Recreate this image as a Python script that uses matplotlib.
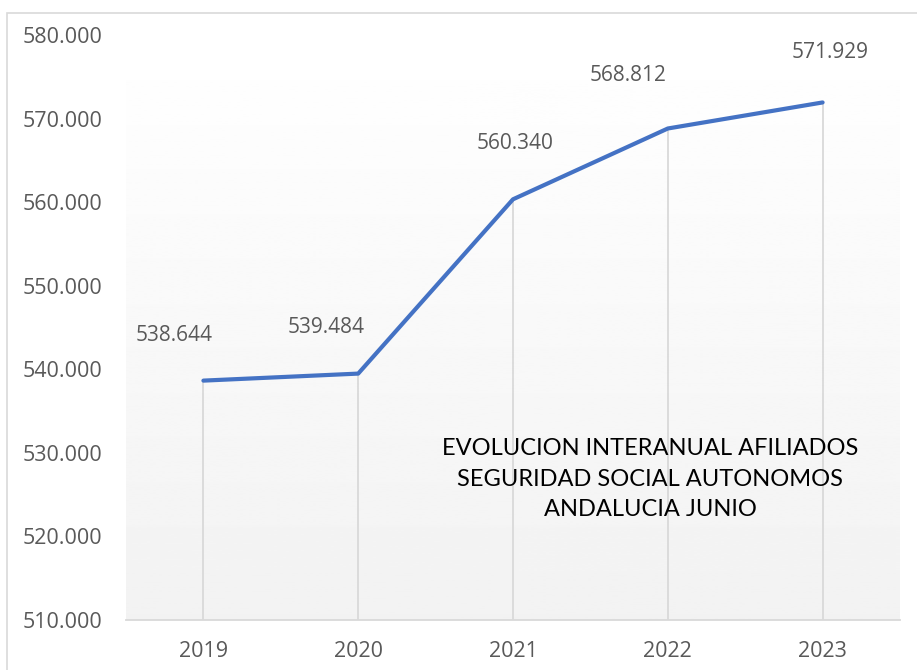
import numpy as np
import matplotlib.pyplot as plt
from matplotlib.patches import Rectangle
from matplotlib.ticker import FuncFormatter

years = ["2019", "2020", "2021", "2022", "2023"]
afiliados = [538644, 539484, 560340, 568812, 571929]
titulo = "EVOLUCION INTERANUAL AFILIADOS\nSEGURIDAD SOCIAL AUTONOMOS\nANDALUCIA JUNIO"

# desplazamiento de cada etiqueta respecto a su punto (pixeles)
label_offsets = [(-29, 45), (-32, 46), (2, 56), (-40, 53), (8, 50)]

LINE = "#4472C4"
GREY = "#595959"


def miles(v, pos=None):
    # formato español: punto como separador de miles
    return f"{v:,.0f}".replace(",", ".")


fig = plt.figure(figsize=(9.17, 6.70), dpi=100)
fig.patches.append(Rectangle((7 / 917, -0.1), 2, 1 - 13 / 670 + 0.1,
                             transform=fig.transFigure, fill=False,
                             edgecolor="#d9d9d9", linewidth=1.2))
ax = fig.add_axes([126 / 917, 1 - 620 / 670, (900 - 126) / 917, (620 - 35) / 670])

x = np.arange(len(years))
ax.set_xlim(-0.5, len(years) - 0.5)
ax.set_ylim(510000, 580000)

# fondo degradado de blanco a gris claro
grad = np.linspace(1.0, 0.949, 256).reshape(-1, 1)
ax.imshow(grad, cmap="gray", vmin=0, vmax=1, aspect="auto",
          extent=[-0.5, len(years) - 0.5, 510000, 580000], zorder=0)

ax.vlines(x, 510000, afiliados, colors="#d9d9d9", linewidth=1.3, zorder=1)
ax.plot(x, afiliados, color=LINE, linewidth=3, solid_capstyle="round", zorder=3)

for xi, v, (dx, dy) in zip(x, afiliados, label_offsets):
    ax.annotate(miles(v), (xi, v), xytext=(dx * 0.72, dy * 0.72),
                textcoords="offset points", ha="center", va="center",
                fontsize=15, color=GREY, family="Open Sans")

ax.text(0.677, 0.241, titulo, transform=ax.transAxes, ha="center", va="center",
        fontsize=17, family="Lato", color="black", linespacing=1.55)

ax.set_xticks(x)
ax.set_xticklabels(years)
ax.set_yticks(np.arange(510000, 580001, 10000))
ax.yaxis.set_major_formatter(FuncFormatter(miles))
for lab in ax.get_xticklabels() + ax.get_yticklabels():
    lab.set_family("Open Sans")
    lab.set_fontsize(15.5)
    lab.set_color(GREY)
ax.tick_params(length=0)
ax.tick_params(axis="x", pad=15)
ax.tick_params(axis="y", pad=17)
for s in ["top", "right", "left"]:
    ax.spines[s].set_visible(False)
ax.spines["bottom"].set_color("#d9d9d9")
ax.spines["bottom"].set_linewidth(1.3)

fig.savefig("out.png", dpi=100)
